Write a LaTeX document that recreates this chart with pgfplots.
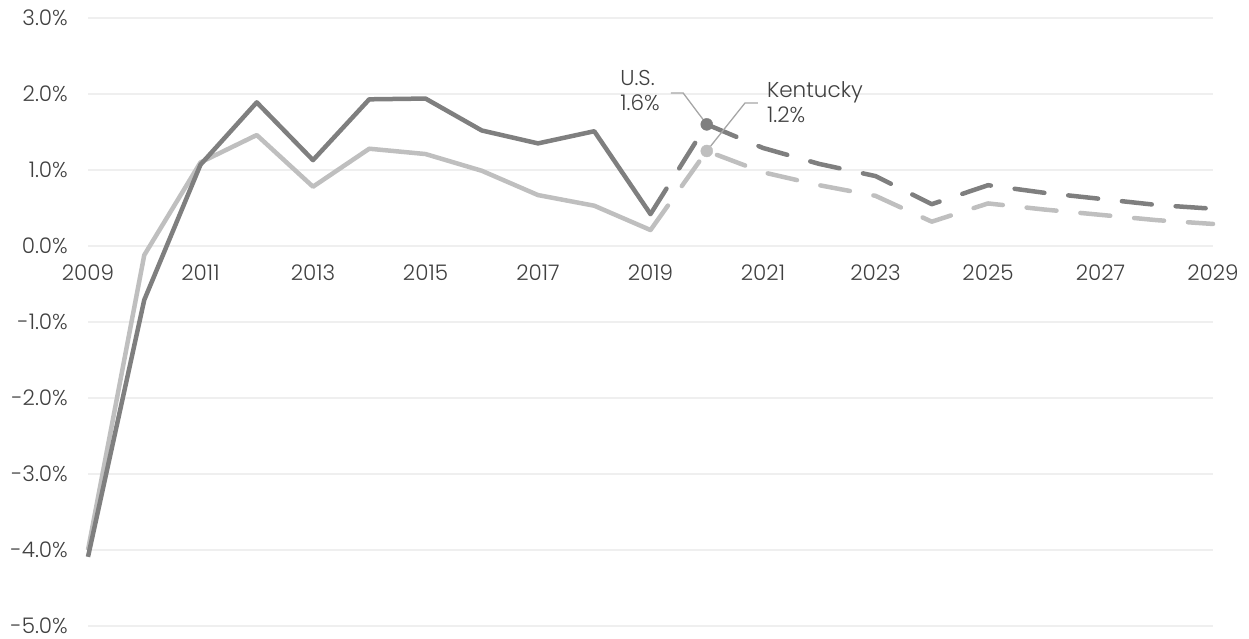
\documentclass[border=0pt]{standalone}
\usepackage{pgfplots}
\pgfplotsset{compat=1.18}
\usepackage{fontspec}
\setmainfont{Poppins}[UprightFont=* Light]
\definecolor{usc}{HTML}{7F7F7F}
\definecolor{kyc}{HTML}{BFBFBF}
\definecolor{gridc}{HTML}{EFEFEF}
\definecolor{txt}{HTML}{404040}
\definecolor{leader}{HTML}{A6A6A6}
\begin{document}
\begin{tikzpicture}
\begin{axis}[
  scale only axis, width=1125pt, height=608pt,
  xmin=2009, xmax=2029, ymin=-5, ymax=3,
  axis line style={draw=none},
  major tick length=0pt,
  xtick={2009,2011,2013,2015,2017,2019,2021,2023,2025,2027,2029},
  xticklabels={2009,2011,2013,2015,2017,2019,2021,2023,2025,2027,2029},
  ytick={-5,-4,-3,-2,-1,0,1,2,3},
  yticklabels={-5.0\%,-4.0\%,-3.0\%,-2.0\%,-1.0\%,0.0\%,1.0\%,2.0\%,3.0\%},
  ymajorgrids, grid style={gridc, line width=1.6pt},
  tick label style={font=\fontsize{21.5}{25}\selectfont, text=txt, inner sep=0pt},
  x tick label style={anchor=north, yshift=361pt},
  y tick label style={anchor=east, xshift=-20pt},
  clip=false,
]
\coordinate (sw) at (rel axis cs:0,0);
\coordinate (ne) at (rel axis cs:1,1);
% Kentucky solid
\addplot[kyc, line width=4.5pt, line join=round] coordinates {
(2009,-4.0) (2010,-0.12) (2011,1.10) (2012,1.46) (2013,0.78) (2014,1.28)
(2015,1.21) (2016,0.99) (2017,0.67) (2018,0.53) (2019,0.21)};
% US solid
\addplot[usc, line width=4.5pt, line join=round] coordinates {
(2009,-4.09) (2010,-0.71) (2011,1.07) (2012,1.89) (2013,1.13) (2014,1.93)
(2015,1.94) (2016,1.52) (2017,1.35) (2018,1.51) (2019,0.42)};
% Kentucky forecast
\addplot[kyc, line width=4.5pt, line cap=round, line join=round, dash pattern=on 30pt off 24pt] coordinates {
(2019,0.21) (2020,1.25) (2021,0.97) (2022,0.80) (2023,0.66) (2024,0.32)
(2025,0.56) (2026,0.48) (2027,0.41) (2028,0.34) (2029,0.29)};
% US forecast
\addplot[usc, line width=4.5pt, line cap=round, line join=round, dash pattern=on 30pt off 24pt] coordinates {
(2019,0.42) (2020,1.60) (2021,1.29) (2022,1.08) (2023,0.92) (2024,0.55)
(2025,0.80) (2026,0.70) (2027,0.62) (2028,0.54) (2029,0.49)};
% markers
\addplot[kyc, only marks, mark=*, mark size=6pt] coordinates {(2020,1.25)};
\addplot[usc, only marks, mark=*, mark size=6pt] coordinates {(2020,1.60)};
% leaders
\draw[leader, line width=1.3pt] (axis cs:2019.36,2.013) -- (axis cs:2019.58,2.013) -- (axis cs:2020,1.6);
\draw[leader, line width=1.3pt] (axis cs:2020.91,1.882) -- (axis cs:2020.68,1.882) -- (axis cs:2020,1.25);
\node[anchor=north west, inner sep=0pt, align=left, text=txt, font=\fontsize{21.5}{25}\selectfont]
  at (axis cs:2018.46,2.31) {U.S.\\1.6\%};
\node[anchor=north west, inner sep=0pt, align=left, text=txt, font=\fontsize{21.5}{25}\selectfont]
  at (axis cs:2021.07,2.17) {Kentucky\\1.2\%};
\end{axis}
\pgfresetboundingbox
\path ([shift={(-88pt,-13pt)}]sw) rectangle ([shift={(36pt,18pt)}]ne);
\end{tikzpicture}
\end{document}
